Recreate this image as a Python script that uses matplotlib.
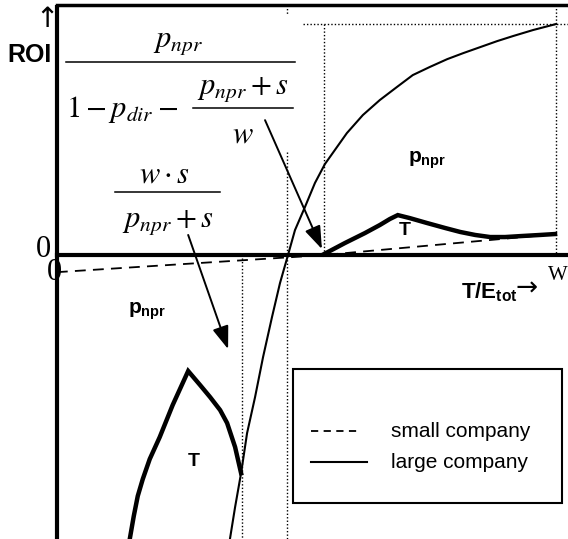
import numpy as np
import matplotlib.pyplot as plt
from matplotlib.patches import Rectangle

plt.rcParams['mathtext.fontset'] = 'custom'
plt.rcParams['mathtext.rm'] = 'Liberation Sans'
plt.rcParams['mathtext.bf'] = 'Liberation Sans:bold'
plt.rcParams['mathtext.it'] = 'Liberation Sans:italic'

SANS = ['Liberation Sans', 'DejaVu Sans']
SERIF = ['Liberation Serif', 'DejaVu Serif']

# x: T/E_tot scaled so that W = 1, y: ROI scaled so that the large-company maximum = 1
x_large = [0.347, 0.357, 0.369, 0.381, 0.397, 0.413, 0.431, 0.447, 0.463, 0.477,
           0.497, 0.517, 0.537, 0.581, 0.613, 0.647, 0.681, 0.713, 0.747, 0.782,
           0.814, 0.848, 0.882, 0.914, 0.954, 1.000]
y_large = [-1.225, -1.091, -0.944, -0.771, -0.615, -0.442, -0.268, -0.121, 0.000, 0.108,
           0.208, 0.312, 0.394, 0.528, 0.606, 0.671, 0.727, 0.779, 0.814, 0.848,
           0.874, 0.900, 0.926, 0.948, 0.974, 1.000]

x_small = [0.000, 0.535, 1.000]
y_small = [-0.074, 0.000, 0.091]

# optimum T for the large company (above the axis) and the small one (below)
x_opt_hi = [0.535, 0.577, 0.617, 0.647, 0.667, 0.683, 0.707, 0.741, 0.778, 0.808,
            0.838, 0.868, 0.898, 0.928, 0.968, 0.998]
y_opt_hi = [0.004, 0.052, 0.095, 0.130, 0.156, 0.173, 0.160, 0.139, 0.117, 0.100,
            0.087, 0.078, 0.078, 0.082, 0.087, 0.091]
x_opt_lo = [0.146, 0.154, 0.162, 0.172, 0.186, 0.206, 0.232, 0.263,
            0.287, 0.307, 0.327, 0.341, 0.357, 0.369]
y_opt_lo = [-1.229, -1.130, -1.043, -0.970, -0.883, -0.788, -0.649, -0.502,
            -0.563, -0.615, -0.671, -0.727, -0.831, -0.944]

x_min, x_max = -0.114, 1.024
y_min, y_max = -1.229, 1.104
y_top = 1.082

fig = plt.figure(figsize=(5.68, 5.39), dpi=100)
ax = fig.add_axes([0, 0, 1, 1])
ax.set_xlim(x_min, x_max)
ax.set_ylim(y_min, y_max)
ax.axis('off')

# frame and axes
ax.plot([0, 0], [y_min, y_top], color='k', lw=3, solid_capstyle='butt')
ax.plot([0, x_max], [y_top, y_top], color='k', lw=2.5)
ax.plot([0, x_max], [0, 0], color='k', lw=3)

# dotted guides
dot = dict(color='k', lw=1.0, ls=(0, (1, 1.5)))
ax.plot([0.371, 0.371], [-0.013, y_min], **dot)
ax.plot([0.461, 0.461], [y_top, 1.039], **dot)
ax.plot([0.461, 0.461], [0.446, y_min], **dot)
ax.plot([0.535, 0.535], [1.0, 0], **dot)
ax.plot([1.0, 1.0], [y_top, 0], **dot)
ax.plot([0.493, x_max], [1.0, 1.0], **dot)

ax.plot(x_large, y_large, color='k', lw=1.5)
ax.plot(x_small, y_small, color='k', lw=1.3, ls=(0, (6, 4)))
ax.plot(x_opt_hi, y_opt_hi, color='k', lw=3.2, solid_joinstyle='miter')
ax.plot(x_opt_lo, y_opt_lo, color='k', lw=3.2, solid_joinstyle='miter')

# formulas, typeset piece by piece like the equation editor does
fm = dict(fontsize=22, math_fontfamily='stix', va='baseline')
ax.text(0.2425, 0.900, r'$p_{npr}$', ha='center', **fm)
ax.plot([0.018, 0.477], [0.8355, 0.8355], color='k', lw=1.1)
ax.text(0.018, 0.597, r'$1-p_{dir}-$', ha='left', **fm)
ax.text(0.3727, 0.697, r'$p_{npr}+s$', ha='center', **fm)
ax.plot([0.2725, 0.473], [0.636, 0.636], color='k', lw=1.1)
ax.text(0.3727, 0.489, r'$w$', ha='center', **fm)

ax.text(0.2164, 0.316, r'$w\cdot s$', ha='center', **fm)
ax.plot([0.116, 0.3267], [0.2727, 0.2727], color='k', lw=1.1)
ax.text(0.222, 0.121, r'$p_{npr}+s$', ha='center', **fm)

arrow = dict(arrowstyle='-|>,head_length=1.4,head_width=0.5', color='k', lw=1.4,
             shrinkA=0, shrinkB=0)
ax.annotate('', xy=(0.531, 0.026), xytext=(0.417, 0.584), arrowprops=arrow)
ax.annotate('', xy=(0.343, -0.407), xytext=(0.263, 0.087), arrowprops=arrow)

# axis labels
ax.text(-0.020, 1.022, '↑', fontsize=20, family='DejaVu Sans', ha='center', va='center')
ax.text(-0.010, 0.866, 'ROI', fontsize=18, family=SANS, fontweight='bold',
        ha='right', va='center')
ax.text(-0.026, 0.022, '0', fontsize=22, family=SERIF, ha='center', va='center')
ax.text(-0.004, -0.074, '0', fontsize=22, family=SERIF, ha='center', va='center')
ax.text(0.984, -0.087, 'W', fontsize=15, family=SERIF, ha='left', va='center')
ax.text(0.810, -0.160, r'$\mathbf{T/E}_{\mathbf{tot}}$', fontsize=16, family=SANS,
        fontweight='bold', ha='left', va='center')
ax.text(0.918, -0.143, '→', fontsize=19, family='DejaVu Sans', ha='left', va='center')

# region labels
ax.text(0.741, 0.411, r'$\mathbf{p}_{\mathbf{npr}}$', fontsize=15, ha='center', va='center')
ax.text(0.180, -0.242, r'$\mathbf{p}_{\mathbf{npr}}$', fontsize=15, ha='center', va='center')
ax.text(0.697, 0.108, 'T', fontsize=14, family=SANS, fontweight='bold', ha='center', va='center')
ax.text(0.275, -0.892, 'T', fontsize=14, family=SANS, fontweight='bold', ha='center', va='center')

# legend
ax.add_patch(Rectangle((0.473, -1.074), 0.539, 0.580, fill=False, ec='k', lw=1.5))
ax.plot([0.509, 0.607], [-0.762, -0.762], color='k', lw=1.3, ls=(0, (4, 3)))
ax.plot([0.509, 0.621], [-0.896, -0.896], color='k', lw=1.5)
ax.text(0.669, -0.762, 'small company', fontsize=15, family=SANS, ha='left', va='center')
ax.text(0.669, -0.896, 'large company', fontsize=15, family=SANS, ha='left', va='center')

fig.savefig('out.png', dpi=100)
